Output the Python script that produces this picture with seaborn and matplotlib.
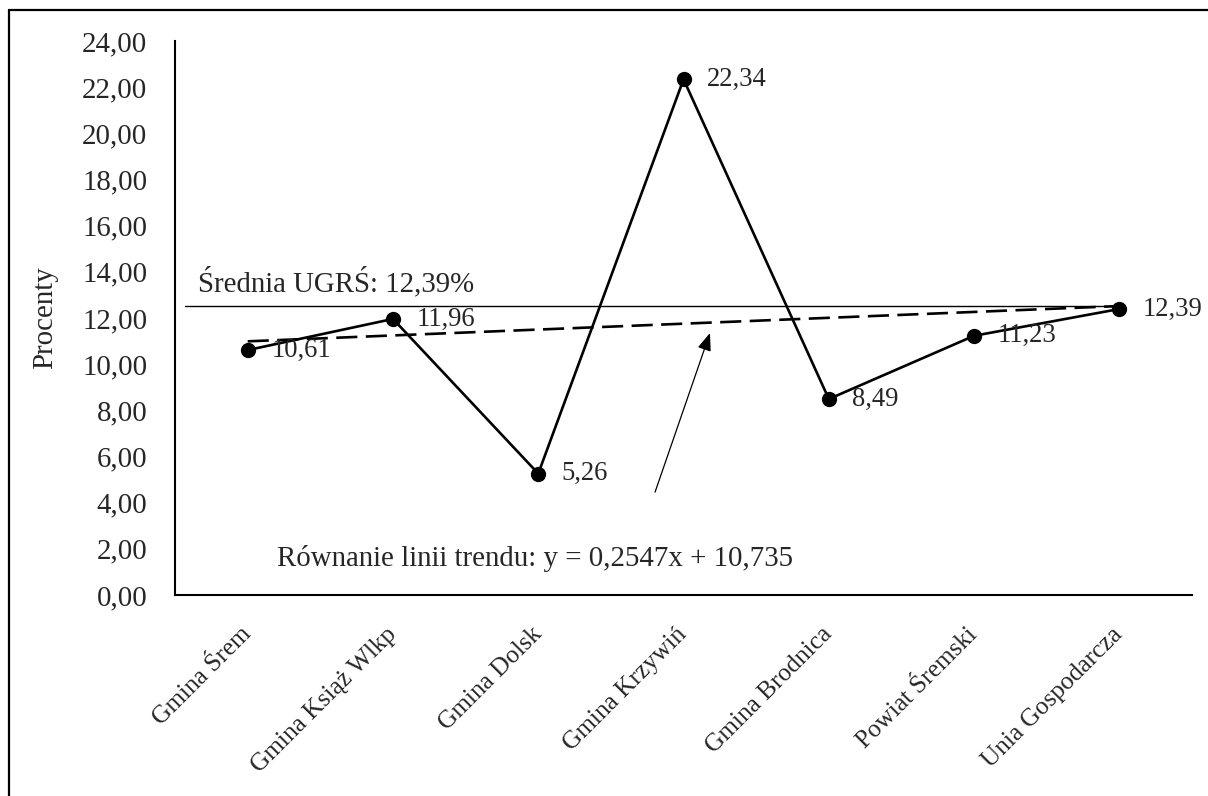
import numpy as np
import pandas as pd
import matplotlib.pyplot as plt
from matplotlib.lines import Line2D
import seaborn as sns

sns.set_theme(style="white")
plt.rcParams['font.family'] = ['Liberation Serif', 'DejaVu Serif']

# Data
units = ['Gmina Śrem', 'Gmina Książ Wlkp', 'Gmina Dolsk', 'Gmina Krzywiń',
         'Gmina Brodnica', 'Powiat Śremski', 'Unia Gospodarcza']
values = [10.61, 11.96, 5.26, 22.34, 8.49, 11.23, 12.39]
value_labels = ['10,61', '11,96', '5,26', '22,34', '8,49', '11,23', '12,39']
y_ticks = [0, 2, 4, 6, 8, 10, 12, 14, 16, 18, 20, 22, 24]
y_tick_labels = ['0,00', '2,00', '4,00', '6,00', '8,00', '10,00', '12,00',
                 '14,00', '16,00', '18,00', '20,00', '22,00', '24,00']
trend_slope = 0.2547
trend_intercept = 10.735
avg_line = 12.5
avg_text = 'Średnia UGRŚ: 12,39%'
trend_text = 'Równanie linii trendu: y = 0,2547x + 10,735'

df = pd.DataFrame({'pos': np.arange(len(units)), 'unit': units, 'value': values})
df['trend'] = trend_slope * (df['pos'] + 1) + trend_intercept

fig = plt.figure(figsize=(12.08, 7.96), dpi=100)
ax = fig.add_axes([0.1449, 0.2525, 0.8419, 0.696])

fs = 20.8
fs_x = 18.3
fs_lab = 19.2

# trend line (dashed)
sns.lineplot(data=df, x='pos', y='trend', ax=ax, color='black', linewidth=1.9,
             dashes=False, zorder=2).lines[-1].set_dashes((8, 3.2))
# average line
ax.plot([-0.43, 6], [avg_line, avg_line], color='black', linewidth=1.0, zorder=1)
# main series
sns.lineplot(data=df, x='pos', y='value', ax=ax, color='black', linewidth=1.9,
             marker='o', markersize=11, markeredgewidth=0, zorder=3)

for p, v, lab in zip(df['pos'], values, value_labels):
    ax.annotate(lab, (p, v), xytext=(17, 0), textcoords='offset points',
                ha='left', va='center', fontsize=fs_lab)

ax.text(-0.34, 13.56, avg_text, fontsize=fs, ha='left', va='center')
ax.text(0.20, 1.60, trend_text, fontsize=fs, ha='left', va='center')
ax.annotate('', xy=(3.182, 11.35), xytext=(2.804, 4.46),
            arrowprops=dict(arrowstyle='-|>,head_length=0.9,head_width=0.35',
                            color='black', linewidth=0.9, shrinkA=0, shrinkB=0))

ax.set_xlim(-0.5, 6.5)
ax.set_ylim(0, 24)
ax.set_yticks(y_ticks)
ax.set_yticklabels(y_tick_labels, fontsize=fs)
ax.set_xticks(df['pos'])
ax.set_xticklabels(units, fontsize=fs_x, rotation=45, ha='right',
                   rotation_mode='anchor', va='center')
ax.tick_params(axis='y', length=0, pad=20)
ax.tick_params(axis='x', length=0, pad=26)
ax.set_xlabel('')
ax.set_ylabel('Procenty', fontsize=fs, labelpad=17)

sns.despine(ax=ax)
for side in ['left', 'bottom']:
    ax.spines[side].set_color('black')
    ax.spines[side].set_linewidth(1.5)

# outer frame (left and top only, as in the cropped original)
fig.add_artist(Line2D([9 / 1208, 9 / 1208], [0, 1 - 10 / 796], color='black',
                      linewidth=1.6, transform=fig.transFigure))
fig.add_artist(Line2D([9 / 1208, 1], [1 - 10 / 796, 1 - 10 / 796], color='black',
                      linewidth=1.6, transform=fig.transFigure))

fig.savefig('out.png', dpi=100, facecolor='white')
